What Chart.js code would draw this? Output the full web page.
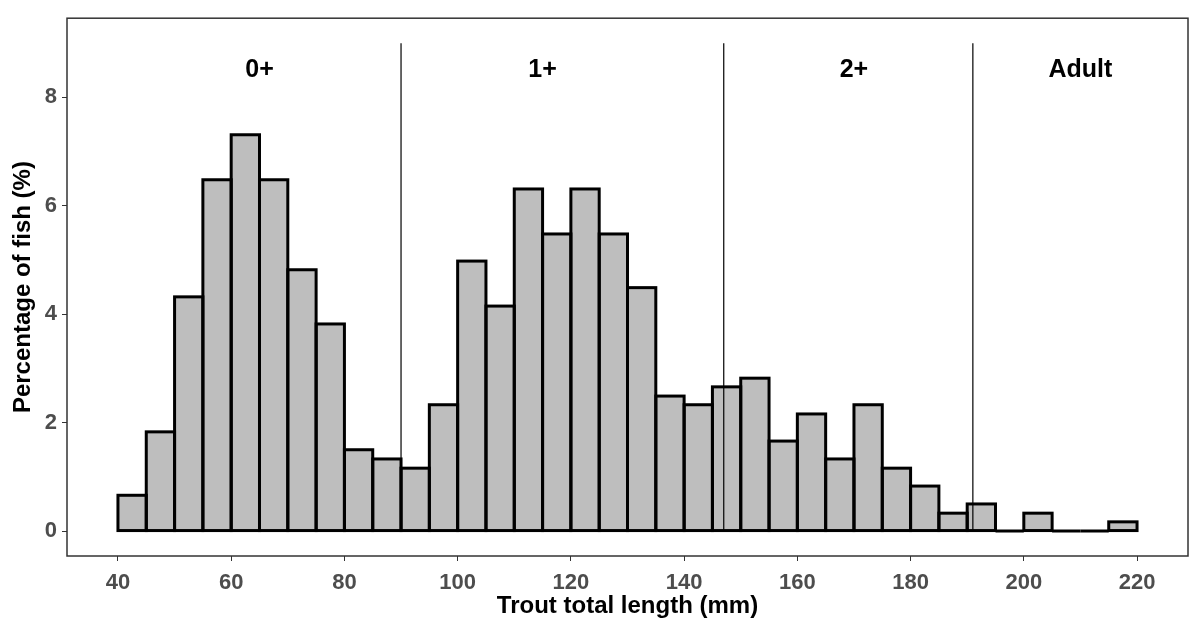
<!DOCTYPE html>
<html>
<head>
<meta charset="utf-8">
<script src="https://cdn.jsdelivr.net/npm/chart.js@4/dist/chart.umd.min.js"></script>
<style>
  html, body { margin: 0; padding: 0; background: #fff; }
  canvas { display: block; }
</style>
</head>
<body>
<canvas id="myChart" width="1197" height="628"></canvas>
<script>
/** Daten */
var binWidth = 5;
var binStart = [40, 45, 50, 55, 60, 65, 70, 75, 80, 85, 90, 95, 100, 105, 110, 115, 120, 125,
                130, 135, 140, 145, 150, 155, 160, 165, 170, 175, 180, 185, 190, 195, 200, 205, 210, 215];
var percentFish = [0.66, 1.83, 4.32, 6.48, 7.31, 6.48, 4.82, 3.82, 1.50, 1.33, 1.16, 2.33,
                   4.98, 4.15, 6.31, 5.48, 6.31, 5.48, 4.49, 2.49, 2.33, 2.66, 2.82, 1.66,
                   2.16, 1.33, 2.33, 1.16, 0.83, 0.33, 0.50, 0, 0.33, 0, 0, 0.17];
var xTicks = [40, 60, 80, 100, 120, 140, 160, 180, 200, 220];
var yTicks = [0, 2, 4, 6, 8];

/** Altersgrenzen und Beschriftungen */
var cutLengths = [90, 147, 191];
var cutTop = 9;
var groupNames = ['0+', '1+', '2+', 'Adult'];
var groupX = [65, 115, 170, 210];
var groupY = 8.5;

var fontFamily = "'Liberation Sans', Arial, sans-serif";

/** Rahmen, Umrisse, Linien und Texte */
var overlay = {
  id: 'overlay',
  afterDatasetsDraw: function(chart) {
    var ctx = chart.ctx;
    var xs = chart.scales.x;
    var ys = chart.scales.y;
    var area = chart.chartArea;

    // Balkenumrisse (auch Balken mit Hoehe 0)
    ctx.save();
    ctx.strokeStyle = '#000';
    ctx.lineWidth = 3;
    ctx.lineJoin = 'miter';
    chart.getDatasetMeta(0).data.forEach(function(bar) {
      var left = bar.x - bar.width / 2;
      var top = Math.min(bar.y, bar.base);
      var h = Math.abs(bar.base - bar.y);
      ctx.strokeRect(left, top, bar.width, h);
    });
    ctx.restore();

    // senkrechte Trennlinien
    ctx.save();
    ctx.strokeStyle = '#000';
    ctx.lineWidth = 1.2;
    cutLengths.forEach(function(v) {
      var px = xs.getPixelForValue(v);
      ctx.beginPath();
      ctx.moveTo(px, ys.getPixelForValue(0));
      ctx.lineTo(px, ys.getPixelForValue(cutTop));
      ctx.stroke();
    });
    ctx.restore();

    // Gruppenbeschriftung
    ctx.save();
    ctx.fillStyle = '#000';
    ctx.font = 'bold 25px ' + fontFamily;
    ctx.textAlign = 'center';
    ctx.textBaseline = 'middle';
    groupNames.forEach(function(name, i) {
      ctx.fillText(name, xs.getPixelForValue(groupX[i]), ys.getPixelForValue(groupY));
    });
    ctx.restore();

    // Panel-Rahmen
    ctx.save();
    ctx.strokeStyle = '#333';
    ctx.lineWidth = 1.5;
    ctx.strokeRect(area.left, area.top, area.right - area.left, area.bottom - area.top);
    ctx.restore();
  }
};

/** Chart */
var ctx = document.getElementById('myChart').getContext('2d');
var myChart = new Chart(ctx, {
  type: 'bar',
  data: {
    datasets: [{
      label: 'Percentage of fish (%)',
      data: binStart.map(function(s, i) { return { x: s + binWidth / 2, y: percentFish[i] }; }),
      backgroundColor: '#BEBEBE',
      borderWidth: 0,
      barPercentage: 1,
      categoryPercentage: 1
    }]
  },
  options: {
    responsive: false,
    devicePixelRatio: 1,
    animation: false,
    layout: { padding: { top: 12, right: 9, left: 0, bottom: 0 } },
    plugins: {
      legend: { display: false },
      tooltip: { enabled: false }
    },
    scales: {
      x: {
        type: 'linear',
        offset: false,
        min: 31,
        max: 229,
        afterBuildTicks: function(scale) {
          scale.ticks = xTicks.map(function(v) { return { value: v }; });
        },
        afterFit: function(scale) { scale.height = 72; },
        grid: { display: true, offset: false, drawOnChartArea: false, drawTicks: true, tickLength: 5, color: '#333', lineWidth: 1 },
        border: { display: false },
        ticks: {
          padding: 9,
          maxRotation: 0,
          color: '#4D4D4D',
          font: { family: fontFamily, size: 22, weight: 'bold' }
        },
        title: {
          display: true,
          text: 'Trout total length (mm)',
          color: '#000',
          padding: { top: 0, bottom: 7 },
          font: { family: fontFamily, size: 24, weight: 'bold' }
        }
      },
      y: {
        min: -0.46,
        max: 9.46,
        afterBuildTicks: function(scale) {
          scale.ticks = yTicks.map(function(v) { return { value: v }; });
        },
        afterFit: function(scale) { scale.width = 67; },
        grid: { display: true, drawOnChartArea: false, drawTicks: true, tickLength: 5, color: '#333', lineWidth: 1 },
        border: { display: false },
        ticks: {
          padding: 5,
          color: '#4D4D4D',
          font: { family: fontFamily, size: 22, weight: 'bold' }
        },
        title: {
          display: true,
          text: 'Percentage of fish (%)',
          color: '#000',
          padding: { top: 9, bottom: 0 },
          font: { family: fontFamily, size: 24, weight: 'bold' }
        }
      }
    }
  },
  plugins: [overlay]
});
</script>
</body>
</html>
